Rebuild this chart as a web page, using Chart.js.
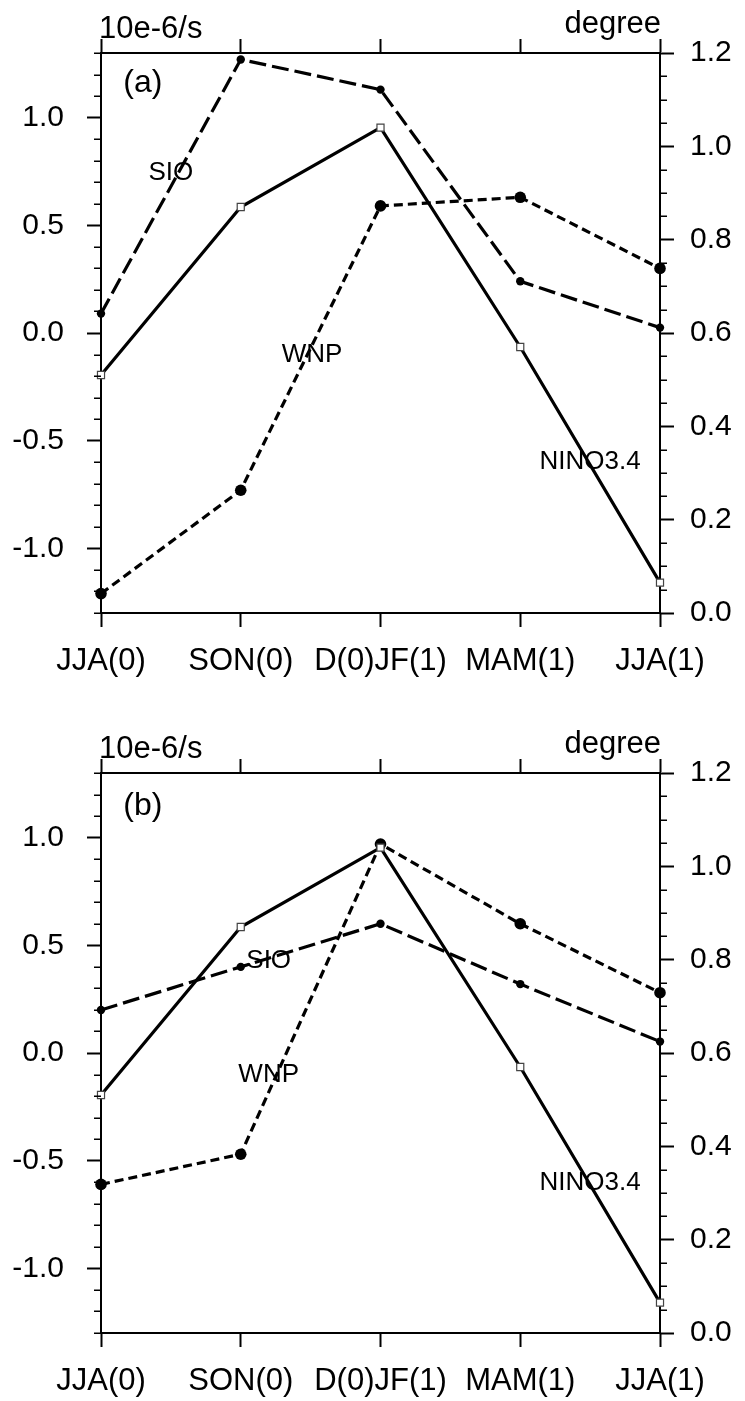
<!DOCTYPE html>
<html>
<head>
<meta charset="utf-8">
<script src="https://cdn.jsdelivr.net/npm/chart.js@4.4.0/dist/chart.umd.min.js"></script>
<style>
  body { margin: 0; background: #fff; }
  canvas { position: absolute; left: 0; }
  #panelA { top: 0; }
  #panelB { top: 720px; }
</style>
</head>
<body>
<canvas id="panelA" width="745" height="720"></canvas>
<canvas id="panelB" width="745" height="681"></canvas>
<script>
var seasons = ["JJA(0)", "SON(0)", "D(0)JF(1)", "MAM(1)", "JJA(1)"];

// panel (a): vorticity indices (10e-6/s) and NINO3.4 SST (degree)
var sioA  = [0.09, 1.27, 1.13, 0.24, 0.025];
var wnpA  = [-1.21, -0.73, 0.59, 0.63, 0.30];
var ninoA = [0.51, 0.87, 1.04, 0.57, 0.065];

// panel (b)
var sioB  = [0.20, 0.40, 0.60, 0.32, 0.053];
var wnpB  = [-0.61, -0.47, 0.97, 0.60, 0.28];
var ninoB = [0.51, 0.87, 1.04, 0.57, 0.065];

var font = "'Liberation Sans', Arial, Helvetica, sans-serif";

// where the series names sit, in (category index, left-axis value)
var notesA = [
  { text: "SIO", x: 0.50, y: 0.744 },
  { text: "WNP", x: 1.51, y: -0.10 },
  { text: "NINO3.4", x: 3.50, y: -0.60 }
];
var notesB = [
  { text: "SIO", x: 1.20, y: 0.428 },
  { text: "WNP", x: 1.20, y: -0.10 },
  { text: "NINO3.4", x: 3.50, y: -0.604 }
];

// minor ticks, unit strings, panel tag and series names
var decor = {
  id: 'decor',
  afterDraw: function(chart, args, opts) {
    var ctx = chart.ctx, area = chart.chartArea;
    var x = chart.scales.x, yl = chart.scales.y, yr = chart.scales.y1;
    ctx.save();
    ctx.strokeStyle = '#000';
    ctx.lineWidth = 1.5;
    ctx.beginPath();
    for (var i = -13; i <= 13; i++) {
      if (i % 5 === 0) continue;
      var py = Math.round(yl.getPixelForValue(i / 10)) + 0.25;
      ctx.moveTo(area.left - 7, py);
      ctx.lineTo(area.left, py);
    }
    for (var j = 1; j < 24; j++) {
      if (j % 4 === 0) continue;
      var qy = Math.round(yr.getPixelForValue(j * 0.05)) + 0.25;
      ctx.moveTo(area.right, qy);
      ctx.lineTo(area.right + 7, qy);
    }
    ctx.stroke();

    ctx.fillStyle = '#000';
    ctx.textBaseline = 'alphabetic';
    ctx.font = '31px ' + font;
    ctx.textAlign = 'left';
    ctx.fillText('10e-6/s', area.left - 2, area.top - 15);
    ctx.textAlign = 'right';
    ctx.fillText('degree', area.right + 1, area.top - 20);

    ctx.textAlign = 'center';
    ctx.textBaseline = 'middle';
    ctx.font = '32px ' + font;
    ctx.fillText(opts.tag, x.getPixelForValue(0.30), yl.getPixelForValue(opts.tagY));
    ctx.font = '26px ' + font;
    opts.notes.forEach(function(n) {
      ctx.fillText(n.text, x.getPixelForValue(n.x), yl.getPixelForValue(n.y));
    });
    ctx.restore();
  }
};

function axisGrid() {
  return { drawOnChartArea: false, tickLength: 14, tickWidth: 2, tickColor: '#000' };
}
function axisBorder() {
  return { display: true, color: '#000', width: 2 };
}

function panel(id, tag, tagY, sio, wnp, nino, notes, below) {
  return new Chart(document.getElementById(id), {
    type: 'line',
    data: {
      labels: seasons,
      datasets: [
        {
          label: 'NINO3.4', data: nino, yAxisID: 'y1',
          borderColor: '#000', borderWidth: 3.2,
          pointStyle: 'rect', pointRadius: 5, pointBorderWidth: 1.2,
          pointBorderColor: '#444', pointBackgroundColor: '#fff', clip: false
        },
        {
          label: 'SIO', data: sio, yAxisID: 'y',
          borderColor: '#000', borderWidth: 3.2, borderDash: [17, 6],
          pointRadius: 4.2, pointBorderWidth: 0, pointBackgroundColor: '#000', clip: false
        },
        {
          label: 'WNP', data: wnp, yAxisID: 'y',
          borderColor: '#000', borderWidth: 3.2, borderDash: [9, 5],
          pointRadius: 5.8, pointBorderWidth: 0, pointBackgroundColor: '#000', clip: false
        }
      ]
    },
    options: {
      responsive: false,
      animation: false,
      devicePixelRatio: 1,
      layout: { padding: 0 },
      elements: { line: { tension: 0, fill: false } },
      plugins: {
        legend: { display: false },
        tooltip: { enabled: false },
        decor: { tag: tag, tagY: tagY, notes: notes }
      },
      scales: {
        x: {
          type: 'category', position: 'bottom', offset: false,
          grid: axisGrid(), border: axisBorder(),
          ticks: { color: '#000', padding: 16, maxRotation: 0, autoSkip: false, font: { family: font, size: 31 } },
          afterFit: function(s) { s.height = below; }
        },
        xTop: {
          type: 'category', position: 'top', offset: false,
          grid: axisGrid(), border: axisBorder(),
          ticks: { display: false },
          afterFit: function(s) { s.height = 53; }
        },
        y: {
          position: 'left', min: -1.3, max: 1.3,
          grid: axisGrid(), border: axisBorder(),
          ticks: {
            stepSize: 0.5, includeBounds: false, padding: 23, color: '#000',
            font: { family: font, size: 30 },
            callback: function(v) { return v.toFixed(1); }
          },
          afterFit: function(s) { s.width = 101; }
        },
        y1: {
          position: 'right', min: 0, max: 1.2,
          grid: axisGrid(), border: axisBorder(),
          ticks: {
            stepSize: 0.2, padding: 16, color: '#000',
            font: { family: font, size: 30 },
            callback: function(v) { return v.toFixed(1); }
          },
          afterFit: function(s) { s.width = 85; }
        }
      }
    },
    plugins: [decor]
  });
}

panel('panelA', '(a)', 1.16, sioA, wnpA, ninoA, notesA, 107);
panel('panelB', '(b)', 1.148, sioB, wnpB, ninoB, notesB, 68);
</script>
</body>
</html>
